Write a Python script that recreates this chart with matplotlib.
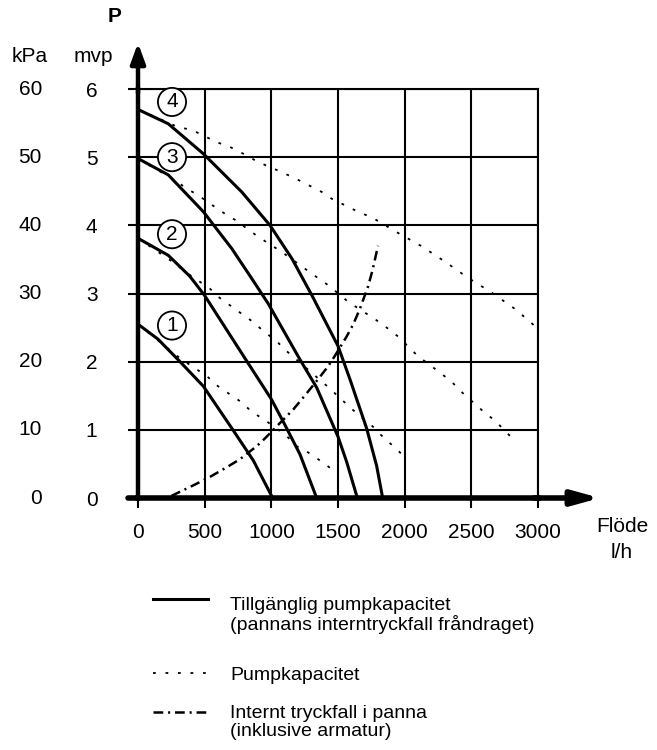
import matplotlib
matplotlib.use('Agg')
import matplotlib.pyplot as plt
from matplotlib.lines import Line2D

plt.rcParams['font.family'] = ['Liberation Sans', 'DejaVu Sans']
plt.rcParams['lines.scale_dashes'] = False

# --- data (flow l/h, pressure mvp) ---
# available pump capacity (internal drop subtracted), curves 1-4
avail1_q = [0, 150, 315, 490, 715, 865, 1010]
avail1_p = [2.55, 2.33, 2.0, 1.64, 0.99, 0.55, 0.0]
avail2_q = [0, 227, 390, 500, 802, 1000, 1100, 1215, 1340]
avail2_p = [3.81, 3.56, 3.25, 2.97, 2.05, 1.45, 1.08, 0.64, 0.0]
avail3_q = [0, 227, 490, 703, 853, 977, 1215, 1340, 1500, 1565, 1645]
avail3_p = [4.98, 4.74, 4.2, 3.66, 3.22, 2.85, 2.03, 1.62, 0.9, 0.53, 0.0]
avail4_q = [0, 227, 490, 778, 990, 1155, 1305, 1500, 1590, 1715, 1790, 1835]
avail4_p = [5.7, 5.49, 5.05, 4.49, 4.0, 3.51, 2.97, 2.23, 1.74, 1.02, 0.47, 0.0]

# pump capacity, curves 1-4
pump1_q = [0, 315, 515, 600, 690, 780, 855, 940, 1115, 1190, 1275, 1380, 1455]
pump1_p = [2.55, 2.05, 1.79, 1.64, 1.52, 1.4, 1.26, 1.16, 0.91, 0.76, 0.67, 0.53, 0.42]
pump2_q = [0, 278, 353, 428, 540, 603, 765, 865, 940, 1040, 1100, 1425, 1590, 1665,
           1760, 1840, 1915, 1980]
pump2_p = [3.81, 3.44, 3.32, 3.22, 3.07, 2.95, 2.72, 2.58, 2.45, 2.3, 2.18, 1.63, 1.33, 1.2,
           1.05, 0.89, 0.76, 0.64]
pump3_q = [0, 278, 365, 452, 540, 628, 728, 903, 1078, 1340, 1428, 1575, 1780, 1865, 1950,
           2100, 2265, 2355, 2430, 2590, 2680, 2830]
pump3_p = [4.98, 4.66, 4.54, 4.44, 4.32, 4.2, 4.08, 3.83, 3.61, 3.24, 3.12, 2.88, 2.62, 2.5, 2.37,
           2.08, 1.84, 1.7, 1.55, 1.27, 1.13, 0.83]
pump4_q = [0, 302, 405, 590, 690, 790, 900, 1078, 1178, 1278, 1378, 1453, 1650, 1760, 1940,
           2130, 2300, 2475, 2640, 2830, 2990]
pump4_p = [5.7, 5.44, 5.4, 5.22, 5.15, 5.05, 4.93, 4.78, 4.69, 4.59, 4.49, 4.39, 4.2, 4.11, 3.9,
           3.69, 3.47, 3.23, 3.03, 2.77, 2.5]

# internal pressure drop in boiler
drop_q = [250, 430, 540, 665, 765, 890, 950, 1165, 1250, 1350, 1425, 1475, 1565, 1615, 1665,
          1725, 1760, 1800]
drop_p = [0.03, 0.2, 0.31, 0.45, 0.57, 0.76, 0.87, 1.3, 1.5, 1.74, 1.93, 2.08, 2.37, 2.55, 2.78,
          3.1, 3.35, 3.7]

curve_ids = ['1', '2', '3', '4']
x_ticks = [0, 500, 1000, 1500, 2000, 2500, 3000]
mvp_ticks = [0, 1, 2, 3, 4, 5, 6]
kpa_labels = ['0', '10', '20', '30', '40', '50', '60']
legend_labels = ['Tillgänglig pumpkapacitet\n(pannans interntryckfall fråndraget)',
                 'Pumpkapacitet',
                 'Internt tryckfall i panna\n(inklusive armatur)']

W, H = 657, 750
fig = plt.figure(figsize=(W / 100, H / 100), dpi=100)
ax = fig.add_axes([138 / W, 1 - 498 / H, 400 / W, 409 / H])

dotted = (0, (2, 7))
dashdot = (0, (7, 3.5, 1.5, 3.5))

for q, p in [(avail1_q, avail1_p), (avail2_q, avail2_p), (avail3_q, avail3_p), (avail4_q, avail4_p)]:
    ax.plot(q, p, color='black', lw=2.2, zorder=3, solid_joinstyle='round')
for q, p in [(pump1_q, pump1_p), (pump2_q, pump2_p), (pump3_q, pump3_p), (pump4_q, pump4_p)]:
    ax.plot(q, p, color='black', lw=1.3, ls=dotted, zorder=3)
ax.plot(drop_q, drop_p, color='black', lw=1.8, ls=dashdot, zorder=3)

# circled curve numbers
label_pos = [(255, 2.53), (255, 3.87), (255, 5.0), (255, 5.81)]
for lbl, (lx, ly) in zip(curve_ids, label_pos):
    ax.text(lx, ly, lbl, ha='center', va='center', fontsize=15, zorder=5,
            bbox=dict(boxstyle='circle,pad=0.22', fc='white', ec='black', lw=1.3))

ax.set_xlim(0, 3000)
ax.set_ylim(0, 6)
ax.set_xticks(x_ticks)
ax.set_xticklabels([str(v) for v in x_ticks])
ax.set_yticks(mvp_ticks)
ax.set_yticklabels([str(v) for v in mvp_ticks])
ax.tick_params(axis='both', direction='out', length=7.2, width=1.5, labelsize=15, color='black')
ax.tick_params(axis='y', pad=22)
ax.tick_params(axis='x', pad=11)
ax.grid(True, color='black', lw=1.5, zorder=1)
ax.spines['left'].set_linewidth(3.2)
ax.spines['bottom'].set_linewidth(4)
ax.spines['top'].set_linewidth(1.5)
ax.spines['right'].set_linewidth(1.5)

# kPa column
for v, k in zip(mvp_ticks, kpa_labels):
    ax.text(-0.24, v, k, transform=ax.get_yaxis_transform(), ha='right', va='center', fontsize=15)

# axis arrows
ax.annotate('', xy=(0, 1 + 46 / 409), xytext=(0, 0.99), xycoords='axes fraction',
            arrowprops=dict(arrowstyle='-|>,head_length=0.6,head_width=0.22', color='black',
                            lw=3.2, mutation_scale=20, shrinkA=0, shrinkB=0),
            annotation_clip=False)
ax.annotate('', xy=(1 + 62 / 400, 0), xytext=(0.99, 0), xycoords='axes fraction',
            arrowprops=dict(arrowstyle='-|>,head_length=0.8,head_width=0.22', color='black',
                            lw=4, mutation_scale=20, shrinkA=0, shrinkB=0),
            annotation_clip=False)
# x axis line pokes a little left of the y axis
ax.annotate('', xy=(0, 0), xytext=(-10 / 400, 0), xycoords='axes fraction',
            arrowprops=dict(arrowstyle='-', color='black', lw=4, shrinkA=0, shrinkB=0),
            annotation_clip=False)

fig.text(115 / W, 1 - 17 / H, 'P', ha='center', va='center', fontsize=15, fontweight='bold')
fig.text(30 / W, 1 - 57 / H, 'kPa', ha='center', va='center', fontsize=15)
fig.text(93 / W, 1 - 57 / H, 'mvp', ha='center', va='center', fontsize=15)
fig.text(622 / W, 1 - 527 / H, 'Flöde', ha='center', va='center', fontsize=15)
fig.text(622 / W, 1 - 553 / H, 'l/h', ha='center', va='center', fontsize=15)

# legend drawn by hand (handles sit on the first text line)
leg_styles = [dict(lw=2.2, ls='-'), dict(lw=1.3, ls=dotted), dict(lw=1.8, ls=dashdot)]
leg_tops = [597, 667, 705]
leg_lines = [599, 673, 712]
for lbl, st, top, yl in zip(legend_labels, leg_styles, leg_tops, leg_lines):
    fig.add_artist(Line2D([153 / W, 208 / W], [1 - yl / H, 1 - yl / H], transform=fig.transFigure,
                          color='black', **st))
    fig.text(230 / W, 1 - top / H, lbl, ha='left', va='top', fontsize=14, linespacing=1.05)

fig.savefig('out.png', dpi=100)
